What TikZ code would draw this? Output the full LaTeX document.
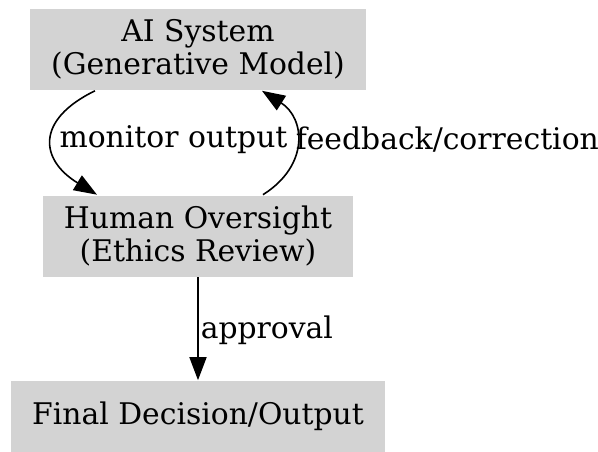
\documentclass[tikz,border=0pt]{standalone}
\usepackage{fontspec}
\setmainfont{DejaVu Serif}
\usetikzlibrary{arrows.meta}

\begin{document}
\begin{tikzpicture}[x=1pt, y=-1pt, line width=1.6pt,
  every node/.style={font=\fontsize{29.8}{33.5}\selectfont},
  box/.style={fill={rgb,255:red,211;green,211;blue,211}, inner sep=0pt,
    align=center, minimum height=81pt},
  edgelabel/.style={inner sep=0pt},
  arr/.style={-{Triangle[length=23pt,width=17pt]}},
]
\useasboundingbox (0,0) rectangle (598,452);
\node[box, minimum width=336pt] (ai) at (198,49.5) {AI System\\(Generative Model)};
\node[box, minimum width=310pt] (human) at (198,236) {Human Oversight\\(Ethics Review)};
\node[box, minimum width=374pt, minimum height=71pt] (final) at (198,416.5) {Final Decision/Output};
\draw[arr] ([xshift=-103pt]ai.south) .. controls (35,120) and (40,160) .. ([xshift=-101pt]human.north);
\draw[arr] ([xshift=65pt]human.north) .. controls (310,165) and (305,118) .. ([xshift=64pt]ai.south);
\draw[arr] (human) -- (final);
\node[edgelabel] (monitor) at (173.5,140) {monitor output};
\node[edgelabel, anchor=west] (feedback) at (295,140) {feedback/correction};
\node[edgelabel, anchor=west] (approval) at (200,330) {approval};
\end{tikzpicture}
\end{document}
